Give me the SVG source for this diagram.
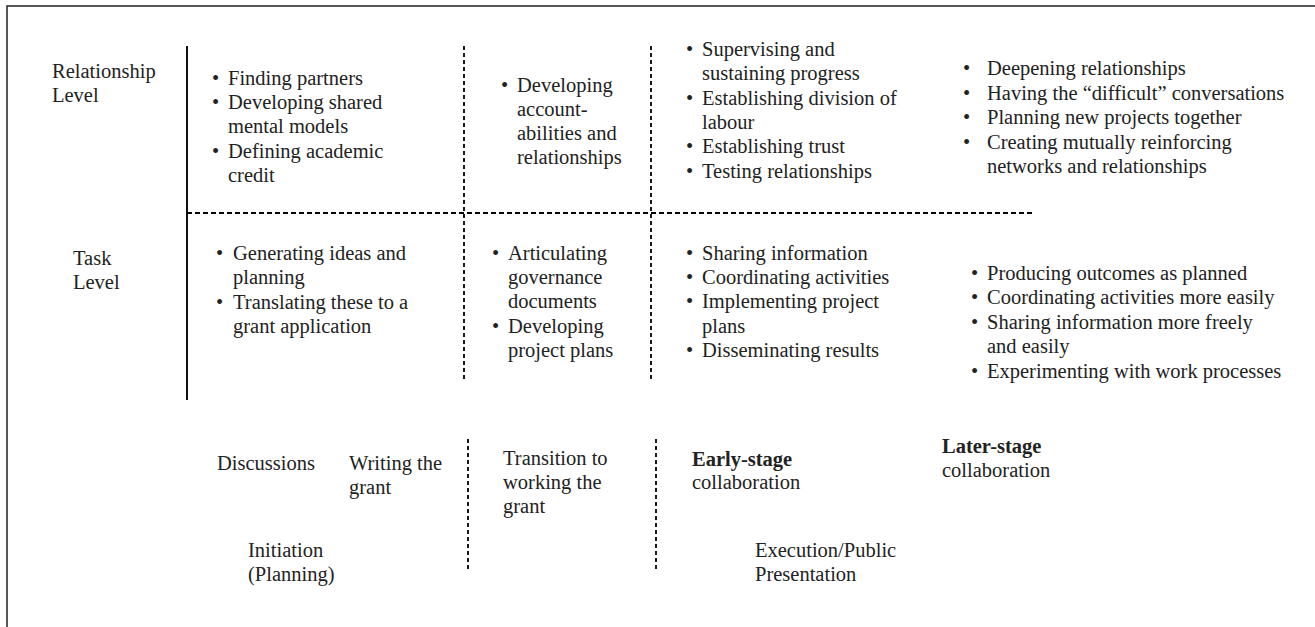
<svg xmlns="http://www.w3.org/2000/svg" width="1315" height="627" viewBox="0 0 1315 627">
<style>
  text { font-family: "Liberation Serif", "Times New Roman", serif; font-size: 20.5px; fill: #222; }
  .b { font-weight: bold; }
  .solid { stroke: #111; stroke-width: 2; fill: none; }
  .dash { stroke: #000; stroke-width: 2; stroke-dasharray: 5 3; fill: none; }
  .dashv { stroke: #000; stroke-width: 1.8; stroke-dasharray: 4 3; fill: none; }
  .frame { stroke: #222; stroke-width: 1.5; fill: none; }
</style>
<rect width="1315" height="627" fill="#fff"/>
<path class="frame" d="M7,640 L7,6 L1330,6"/>

<g id="connectors">
  <line class="solid" x1="187" y1="46" x2="187" y2="400"/>
  <line class="dashv" x1="464" y1="46" x2="464" y2="382"/>
  <line class="dashv" x1="651" y1="46" x2="651" y2="382"/>
  <line class="dash" x1="187" y1="213" x2="1033" y2="213"/>
  <line class="dashv" x1="468" y1="439" x2="468" y2="569"/>
  <line class="dashv" x1="656" y1="439" x2="656" y2="569"/>
</g>

<g id="row-labels">
  <text x="52" y="78">Relationship</text>
  <text x="52" y="102">Level</text>
  <text x="73" y="265">Task</text>
  <text x="73" y="289">Level</text>
</g>

<g id="rel-initiation">
  <text x="212" y="85">•</text><text x="228" y="85">Finding partners</text>
  <text x="212" y="109">•</text><text x="228" y="109">Developing shared</text>
  <text x="228" y="133">mental models</text>
  <text x="212" y="158">•</text><text x="228" y="158">Defining academic</text>
  <text x="228" y="182">credit</text>
</g>

<g id="rel-transition">
  <text x="501" y="92">•</text><text x="517" y="92">Developing</text>
  <text x="517" y="116">account-</text>
  <text x="517" y="140">abilities and</text>
  <text x="517" y="164">relationships</text>
</g>

<g id="rel-early">
  <text x="686" y="56">•</text><text x="702" y="56">Supervising and</text>
  <text x="702" y="80">sustaining progress</text>
  <text x="686" y="105">•</text><text x="702" y="105">Establishing division of</text>
  <text x="702" y="129">labour</text>
  <text x="686" y="153">•</text><text x="702" y="153">Establishing trust</text>
  <text x="686" y="178">•</text><text x="702" y="178">Testing relationships</text>
</g>

<g id="rel-later">
  <text x="963" y="75">•</text><text x="987" y="75">Deepening relationships</text>
  <text x="963" y="100">•</text><text x="987" y="100">Having the “difficult” conversations</text>
  <text x="963" y="124">•</text><text x="987" y="124">Planning new projects together</text>
  <text x="963" y="149">•</text><text x="987" y="149">Creating mutually reinforcing</text>
  <text x="987" y="173">networks and relationships</text>
</g>

<g id="task-initiation">
  <text x="216" y="260">•</text><text x="233" y="260">Generating ideas and</text>
  <text x="233" y="284">planning</text>
  <text x="216" y="309">•</text><text x="233" y="309">Translating these to a</text>
  <text x="233" y="333">grant application</text>
</g>

<g id="task-transition">
  <text x="492" y="260">•</text><text x="508" y="260">Articulating</text>
  <text x="508" y="284">governance</text>
  <text x="508" y="308">documents</text>
  <text x="492" y="333">•</text><text x="508" y="333">Developing</text>
  <text x="508" y="357">project plans</text>
</g>

<g id="task-early">
  <text x="686" y="260">•</text><text x="702" y="260">Sharing information</text>
  <text x="686" y="284">•</text><text x="702" y="284">Coordinating activities</text>
  <text x="686" y="308">•</text><text x="702" y="308">Implementing project</text>
  <text x="702" y="333">plans</text>
  <text x="686" y="357">•</text><text x="702" y="357">Disseminating results</text>
</g>

<g id="task-later">
  <text x="971" y="280">•</text><text x="987" y="280">Producing outcomes as planned</text>
  <text x="971" y="304">•</text><text x="987" y="304">Coordinating activities more easily</text>
  <text x="971" y="329">•</text><text x="987" y="329">Sharing information more freely</text>
  <text x="987" y="353">and easily</text>
  <text x="971" y="378">•</text><text x="987" y="378">Experimenting with work processes</text>
</g>

<g id="stage-labels">
  <text x="217" y="470">Discussions</text>
  <text x="349" y="470">Writing the</text>
  <text x="349" y="494">grant</text>
  <text x="248" y="557">Initiation</text>
  <text x="248" y="581">(Planning)</text>
  <text x="503" y="465">Transition to</text>
  <text x="503" y="489">working the</text>
  <text x="503" y="513">grant</text>
  <text class="b" x="692" y="466">Early-stage</text>
  <text x="692" y="489">collaboration</text>
  <text class="b" x="942" y="453">Later-stage</text>
  <text x="942" y="477">collaboration</text>
  <text x="755" y="557">Execution/Public</text>
  <text x="755" y="581">Presentation</text>
</g>
</svg>
